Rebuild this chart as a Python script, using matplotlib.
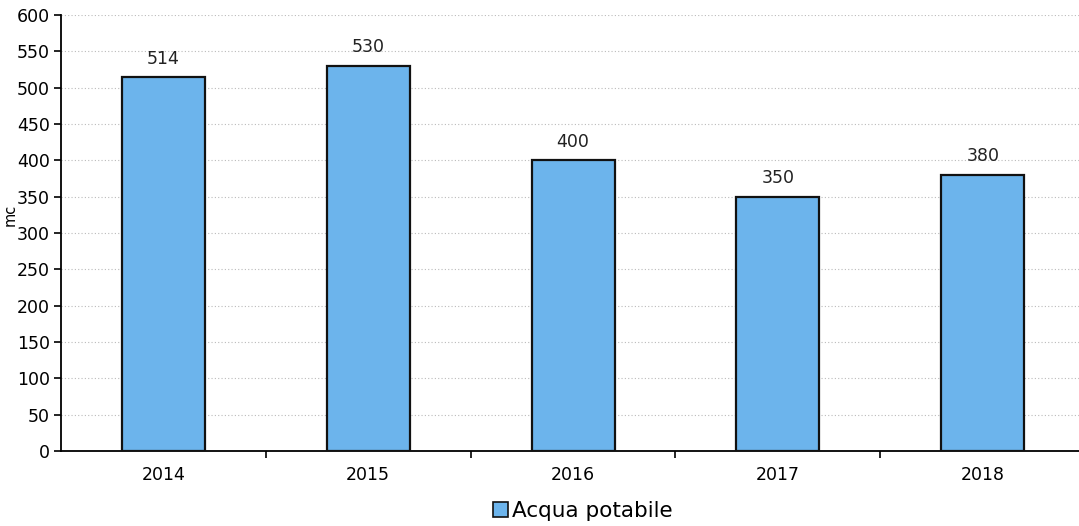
import numpy as np
import matplotlib.pyplot as plt
from matplotlib.patches import Patch

years = ['2014', '2015', '2016', '2017', '2018']
acqua = [514, 530, 400, 350, 380]

fig = plt.figure(figsize=(10.79, 5.26), dpi=100)
ax = fig.add_axes([0.0565, 0.1426, 0.9435, 0.829])

x = np.arange(len(years))
bars = ax.bar(x, acqua, width=0.405, color='#6cb4ec', edgecolor='#111111',
              linewidth=1.6, zorder=3)

# value labels over the bars
for xi, v in zip(x, acqua):
    ax.text(xi, v + 13, str(v), ha='center', va='bottom', fontsize=12.5, color='#222222')

ax.set_ylim(0, 600)
ax.set_yticks(range(0, 601, 50))
ax.set_xlim(-0.5, 4.47)
ax.set_xticks(x)
ax.set_xticklabels(years, fontsize=12.5)
ax.set_xticks(np.arange(0.5, 4.5, 1), minor=True)
ax.tick_params(axis='x', which='major', length=0, pad=11)
ax.tick_params(axis='x', which='minor', length=5, width=1.2, direction='out')
ax.tick_params(axis='y', labelsize=12.5, length=5, width=1.2, direction='out', pad=3)

ax.yaxis.grid(True, linestyle=(0, (1, 2)), color='#bbbbbb', linewidth=0.8, zorder=0)
for s in ['top', 'right']:
    ax.spines[s].set_visible(False)
ax.spines['left'].set_linewidth(1.3)
ax.spines['bottom'].set_linewidth(1.3)

# axis title squeezed into the left margin, between the 300 and 350 labels
fig.text(0.002, 0.592, 'mc', rotation=90, fontsize=10.5, ha='left', va='center')

fig.legend(handles=[Patch(facecolor='#6cb4ec', edgecolor='#111111', linewidth=1.2)],
           labels=['Acqua potabile'], loc='center', bbox_to_anchor=(0.54, 0.028),
           frameon=False, fontsize=15.5, handlelength=0.7, handleheight=0.7,
           handletextpad=0.2)

fig.savefig('out.png', dpi=100)
